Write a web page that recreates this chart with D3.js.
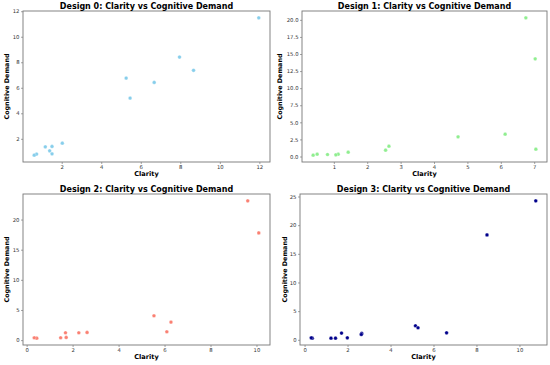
<!DOCTYPE html>
<html>
<head>
  <meta charset="utf-8">
  <title>Clarity vs Cognitive Demand</title>
  <script src="https://cdn.jsdelivr.net/npm/d3@7"></script>
  <style>
    body { margin: 0; background: #fff; }
    svg { display: block; font-family: "DejaVu Sans", sans-serif; }
  </style>
</head>
<body>
<div id="chart"></div>
<script>
// values
var clarity0 = [11.97, 7.96, 8.67, 5.26, 6.68, 5.46, 2.03, 1.17, 1.51, 1.39, 1.51, 0.73, 0.61];
var demand0  = [11.48, 8.41, 7.37, 6.76, 6.42, 5.19, 1.66, 1.37, 1.40, 1.06, 0.82, 0.80, 0.72];

var clarity1 = [6.75, 7.03, 7.05, 6.13, 4.72, 2.65, 2.55, 1.43, 1.13, 1.06, 0.81, 0.50, 0.38];
var demand1  = [20.29, 14.29, 1.07, 3.27, 2.88, 1.51, 0.93, 0.63, 0.34, 0.24, 0.29, 0.34, 0.20];

var clarity2 = [9.62, 10.10, 5.54, 6.28, 6.10, 2.63, 2.27, 1.69, 1.72, 1.48, 0.44, 0.33];
var demand2  = [23.10, 17.78, 4.04, 2.99, 1.39, 1.27, 1.22, 1.22, 0.44, 0.39, 0.33, 0.39];

var clarity3 = [10.76, 8.49, 5.16, 5.28, 6.61, 2.66, 2.64, 1.72, 1.99, 1.44, 1.23, 0.36, 0.31];
var demand3  = [24.24, 18.30, 2.45, 2.10, 1.22, 1.11, 0.93, 1.17, 0.35, 0.29, 0.29, 0.29, 0.35];

var xTicks = [[2, 4, 6, 8, 10, 12], [1, 2, 3, 4, 5, 6, 7], [0, 2, 4, 6, 8, 10], [0, 2, 4, 6, 8, 10]];
var yTicks = [[2, 4, 6, 8, 10, 12], [0, 2.5, 5, 7.5, 10, 12.5, 15, 17.5, 20], [0, 5, 10, 15, 20], [0, 5, 10, 15, 20, 25]];
var yFormats = ["d", ".1f", "d", "d"];
var colors = ["#87ceeb", "#90ee90", "#fa8072", "#00008b"];

var W = 550, H = 365;
var svg = d3.select("#chart").append("svg").attr("width", W).attr("height", H);

// plot frames (left, top, right, bottom) and y-label x position
var frames = [
  {l: 23, t: 11, r: 270, b: 162, ylab: 9},
  {l: 302, t: 11, r: 547, b: 162, ylab: 281.5},
  {l: 23, t: 194, r: 270, b: 345, ylab: 9},
  {l: 300, t: 194, r: 547, b: 345, ylab: 286.5}
];
var xs = [clarity0, clarity1, clarity2, clarity3];
var ys = [demand0, demand1, demand2, demand3];

// matplotlib style 5% margin around data
function padded(v) {
  var e = d3.extent(v), m = (e[1] - e[0]) * 0.05;
  return [e[0] - m, e[1] + m];
}

frames.forEach(function (f, i) {
  var x = d3.scaleLinear().domain(padded(xs[i])).range([f.l, f.r]);
  var y = d3.scaleLinear().domain(padded(ys[i])).range([f.b, f.t]);
  var g = svg.append("g");

  var xa = g.append("g").attr("transform", "translate(0," + f.b + ")")
    .call(d3.axisBottom(x).tickValues(xTicks[i]).tickFormat(d3.format("d")).tickSizeOuter(0).tickSize(2).tickPadding(1.5));
  var ya = g.append("g").attr("transform", "translate(" + f.l + ",0)")
    .call(d3.axisLeft(y).tickValues(yTicks[i]).tickFormat(d3.format(yFormats[i])).tickSizeOuter(0).tickSize(2).tickPadding(1.5));
  [xa, ya].forEach(function (a) {
    a.select(".domain").remove();
    a.selectAll("line").attr("stroke", "#666").attr("stroke-width", 0.6);
    a.selectAll("text").attr("font-size", 5.3).attr("fill", "#333").attr("font-family", "DejaVu Sans");
  });

  g.append("rect").attr("x", f.l).attr("y", f.t)
    .attr("width", f.r - f.l).attr("height", f.b - f.t)
    .attr("fill", "none").attr("stroke", "#777").attr("stroke-width", 0.9);

  g.selectAll("circle").data(xs[i]).enter().append("circle")
    .attr("cx", function (d) { return x(d); })
    .attr("cy", function (d, j) { return y(ys[i][j]); })
    .attr("r", 1.85)
    .attr("fill", colors[i])
    .attr("stroke", "#fff").attr("stroke-width", 0.3);

  g.append("text").attr("x", (f.l + f.r) / 2).attr("y", f.t - 2.4)
    .attr("text-anchor", "middle").attr("font-size", 8).attr("font-weight", "bold")
    .text("Design " + i + ": Clarity vs Cognitive Demand");
  g.append("text").attr("x", (f.l + f.r) / 2).attr("y", f.b + 14.2)
    .attr("text-anchor", "middle").attr("font-size", 6.6).attr("font-weight", "bold")
    .text("Clarity");
  g.append("text")
    .attr("transform", "translate(" + f.ylab + "," + (f.t + f.b) / 2 + ") rotate(-90)")
    .attr("text-anchor", "middle").attr("font-size", 6.4).attr("font-weight", "bold")
    .text("Cognitive Demand");
});
</script>
</body>
</html>
